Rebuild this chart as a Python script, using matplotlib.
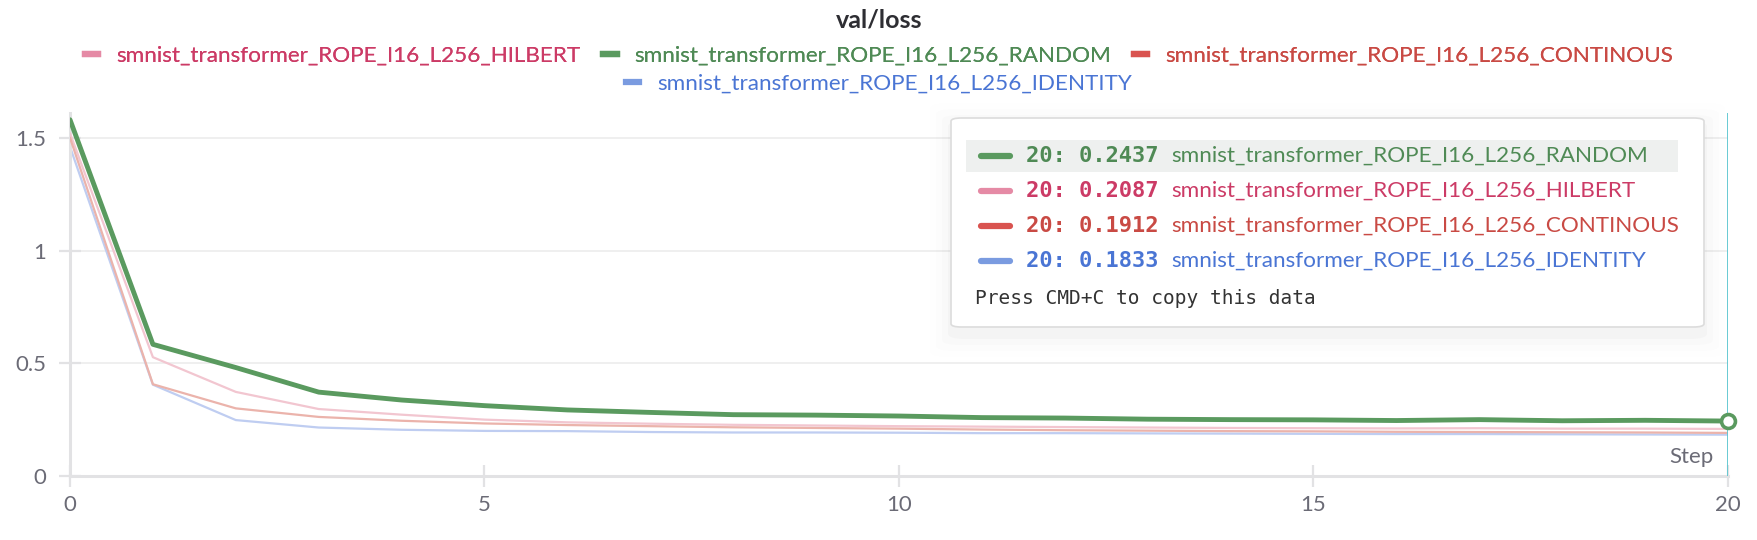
import matplotlib
matplotlib.use("Agg")
import matplotlib.pyplot as plt
from matplotlib.lines import Line2D
from matplotlib.patches import FancyBboxPatch, Rectangle

# ---- data ----
steps = list(range(21))
loss_random = [1.58, 0.584, 0.481, 0.372, 0.337, 0.312, 0.293, 0.282, 0.272, 0.270,
               0.266, 0.259, 0.257, 0.252, 0.250, 0.249, 0.246, 0.250, 0.245, 0.247, 0.2437]
loss_hilbert = [1.52, 0.527, 0.373, 0.297, 0.272, 0.250, 0.238, 0.232, 0.227, 0.224,
                0.221, 0.219, 0.217, 0.215, 0.213, 0.212, 0.211, 0.212, 0.210, 0.210, 0.2087]
loss_contin = [1.50, 0.407, 0.300, 0.262, 0.245, 0.233, 0.226, 0.221, 0.216, 0.213,
               0.210, 0.206, 0.203, 0.201, 0.199, 0.198, 0.196, 0.195, 0.194, 0.193, 0.1912]
loss_identity = [1.46, 0.405, 0.248, 0.215, 0.205, 0.200, 0.199, 0.195, 0.193, 0.193,
                 0.192, 0.190, 0.190, 0.189, 0.188, 0.187, 0.186, 0.186, 0.185, 0.184, 0.1833]

run_names = ["smnist_transformer_ROPE_I16_L256_HILBERT",
             "smnist_transformer_ROPE_I16_L256_RANDOM",
             "smnist_transformer_ROPE_I16_L256_CONTINOUS",
             "smnist_transformer_ROPE_I16_L256_IDENTITY"]
series = [loss_hilbert, loss_random, loss_contin, loss_identity]

# legend / text colours, and the faded colours of the non-highlighted lines
text_colors = ["#cc3b66", "#4f8a55", "#c94a44", "#4a75d4"]
swatch_colors = ["#e58aa5", "#5a9a5f", "#d9534f", "#7a9be0"]
line_colors = ["#f2c6d0", "#5a9a5f", "#ebb3ab", "#bfcdf1"]
line_widths = [1.6, 3.5, 1.6, 1.6]
z_order = [3, 5, 3, 2]

SANS = ["Lato", "DejaVu Sans"]
MONO = ["DejaVu Sans Mono"]
GREY_TXT = "#6b6b76"
AXIS_GREY = "#e2e2e4"

plt.rcParams["font.family"] = SANS

W, H = 1758, 540
fig = plt.figure(figsize=(W / 100, H / 100), dpi=100)
ax = fig.add_axes([70 / W, 1 - 476 / H, (1728 - 70) / W, (476 - 113) / H])

for vals, c, lw, z in zip(series, line_colors, line_widths, z_order):
    ax.plot(steps, vals, color=c, lw=lw, zorder=z, solid_capstyle="round")

# hover cursor + highlighted point
ax.axvline(20, color="#5cc6d0", lw=1.3, zorder=6)
ax.plot([steps[-1]], [loss_random[-1]], marker="o", ms=10, mfc="white",
        mec="#5a9a5f", mew=2.6, zorder=7, clip_on=False)

ax.set_xlim(0, 20)
ax.set_ylim(0, 1.61)
ax.set_xticks([0, 5, 10, 15, 20])
ax.set_yticks([0, 0.5, 1, 1.5])
ax.set_yticklabels(["0", "0.5", "1", "1.5"])
ax.grid(axis="y", color="#ececec", lw=1.2)
ax.set_axisbelow(True)
for s in ["top", "right"]:
    ax.spines[s].set_visible(False)
for s in ["left", "bottom"]:
    ax.spines[s].set_color(AXIS_GREY)
    ax.spines[s].set_linewidth(2.2)
ax.tick_params(axis="both", direction="inout", length=16, width=1.6,
               color=AXIS_GREY, labelcolor=GREY_TXT, labelsize=16)
ax.tick_params(axis="x", pad=6)
ax.tick_params(axis="y", pad=9)
ax.text(19.83, 0.085, "Step", ha="right", va="center", fontsize=16, color=GREY_TXT)

# title + legend
fig.text(0.5, 1 - 20 / H, "val/loss", ha="center", va="center",
         fontsize=18, fontweight="bold", color="#2e2e33")

def make_handles(idx):
    return [Line2D([0], [0], color=swatch_colors[i], lw=4.5) for i in idx]

leg_kw = dict(loc="center", frameon=False, fontsize=16.2, handlelength=0.6,
              handletextpad=0.8, borderpad=0, borderaxespad=0)
row1 = [0, 1, 2]
leg1 = fig.legend(make_handles(row1), [run_names[i] for i in row1], ncol=3,
                  bbox_to_anchor=(0.5, 1 - 56 / H), columnspacing=1.0, **leg_kw)
for t, i in zip(leg1.get_texts(), row1):
    t.set_color(text_colors[i])
fig.add_artist(leg1)
leg2 = fig.legend(make_handles([3]), [run_names[3]],
                  bbox_to_anchor=(0.5, 1 - 84 / H), **leg_kw)
leg2.get_texts()[0].set_color(text_colors[3])

# tooltip box
def fx(px):
    return px / W
def fy(py):
    return 1 - py / H

for k, a in enumerate([0.018, 0.012, 0.008, 0.005]):
    pad = 3 + 6 * k
    fig.add_artist(FancyBboxPatch((fx(951 - pad), fy(330 + pad + 6)),
                                  fx(753 + 2 * pad), (212 + 2 * pad) / H,
                                  boxstyle="round,pad=0,rounding_size=0.01",
                                  transform=fig.transFigure, fc="#000000", ec="none",
                                  alpha=a, zorder=10))
fig.add_artist(FancyBboxPatch((fx(951), fy(327)), fx(753), 209 / H,
                              boxstyle="round,pad=0,rounding_size=0.006",
                              transform=fig.transFigure, fc="white", ec="#dcdcdc",
                              lw=1.2, zorder=11))
fig.add_artist(Rectangle((fx(966), fy(172)), fx(712), 32 / H,
                         transform=fig.transFigure, fc="#eef0ef", ec="none", zorder=12))

order = sorted(range(4), key=lambda i: series[i][-1], reverse=True)
row_y = [156, 191, 226, 261]
for ry, i in zip(row_y, order):
    fig.add_artist(Line2D([fx(981), fx(1010)], [fy(ry), fy(ry)], color=swatch_colors[i],
                          lw=4.5, solid_capstyle="round", transform=fig.transFigure, zorder=13))
    fig.text(fx(1026), fy(ry), f"{steps[-1]}: {series[i][-1]:.4f}", ha="left", va="center",
             family=MONO, fontweight="bold", fontsize=15.8, color=text_colors[i], zorder=13)
    fig.text(fx(1171), fy(ry), run_names[i], ha="left", va="center",
             fontsize=16.2, color=text_colors[i], zorder=13)
fig.text(fx(975), fy(298), "Press CMD+C to copy this data", ha="left", va="center",
         family=MONO, fontsize=14, color="#333333", zorder=13)

fig.savefig("out.png", dpi=100)
